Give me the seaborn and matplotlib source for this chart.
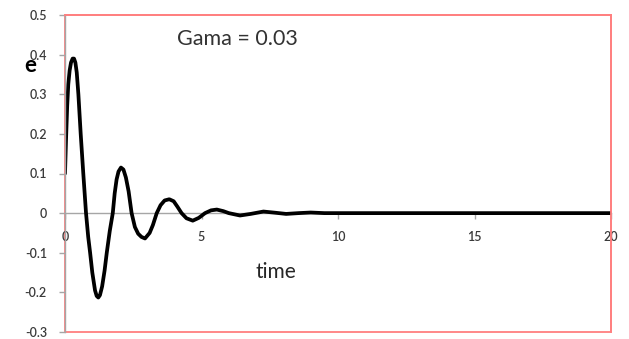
import matplotlib
matplotlib.use("Agg")
import matplotlib.pyplot as plt
from matplotlib.patches import Rectangle
import seaborn as sns
import pandas as pd

# values
time = [0, 0.04, 0.08, 0.12, 0.17, 0.22, 0.28, 0.33, 0.38, 0.43, 0.49, 0.575,
        0.67, 0.77, 0.85, 0.92, 1.0, 1.1, 1.16, 1.22, 1.28, 1.36, 1.45, 1.53,
        1.64, 1.75, 1.82, 1.89, 1.96, 2.05, 2.14, 2.23, 2.33, 2.44, 2.56, 2.68,
        2.8, 2.93, 3.1, 3.22, 3.36, 3.5, 3.65, 3.82, 3.98, 4.12, 4.27, 4.45,
        4.68, 4.9, 5.13, 5.35, 5.56, 5.8, 6.0, 6.41, 6.8, 7.27, 7.7, 8.1, 8.55,
        9.0, 9.5, 10, 11, 12, 13, 14, 15, 16, 17, 18, 19, 20]
e = [0.10, 0.19, 0.27, 0.325, 0.36, 0.38, 0.39, 0.39, 0.38, 0.355, 0.30, 0.20,
     0.10, 0.0, -0.06, -0.10, -0.15, -0.195, -0.209, -0.213, -0.207, -0.185,
     -0.145, -0.10, -0.045, 0.0, 0.05, 0.085, 0.105, 0.115, 0.11, 0.09, 0.055,
     0.0, -0.035, -0.052, -0.06, -0.064, -0.05, -0.03, 0.0, 0.02, 0.032, 0.035,
     0.03, 0.016, 0.0, -0.013, -0.019, -0.012, 0.0, 0.007, 0.009, 0.005, 0.0,
     -0.006, -0.002, 0.004, 0.001, -0.002, 0.0, 0.0015, 0.0, 0, 0, 0, 0, 0, 0,
     0, 0, 0, 0, 0]
xticks = [0, 5, 10, 15, 20]
yticks = [-0.3, -0.2, -0.1, 0, 0.1, 0.2, 0.3, 0.4, 0.5]
ylabels = ["-0.3", "-0.2", "-0.1", "0", "0.1", "0.2", "0.3", "0.4", "0.5"]

df = pd.DataFrame({"time": time, "e": e})

sns.set_style("white")
plt.rcParams['font.family'] = ['Lato', 'DejaVu Sans']

fig = plt.figure(figsize=(6.29, 3.39), dpi=100)
ax = fig.add_axes([65/629, 7/339, 546/629, 317/339])

sns.lineplot(data=df, x="time", y="e", color="black", linewidth=2.7, ax=ax)
for ln in ax.lines:
    ln.set_solid_joinstyle("round")

ax.set_xlim(0, 20)
ax.set_ylim(-0.3, 0.5)
ax.set_xlabel("")
ax.set_ylabel("")

red = "#ff7f7f"
grey = "#a6a6a6"
for s in ["top", "right"]:
    ax.spines[s].set_color(red)
    ax.spines[s].set_linewidth(1.3)
ax.spines["left"].set_color(grey)
ax.spines["left"].set_linewidth(1.0)
ax.spines["bottom"].set_position(("data", 0))
ax.spines["bottom"].set_color(grey)
ax.spines["bottom"].set_linewidth(1.0)
ax.spines["bottom"].set_zorder(1)
ax.add_patch(Rectangle((0, 0), 1, 1, transform=ax.transAxes, fill=False,
                       edgecolor=red, linewidth=1.3, clip_on=False, zorder=0.5))

ax.set_xticks(xticks)
ax.set_xticklabels([str(t) for t in xticks])
ax.set_yticks(yticks)
ax.set_yticklabels(ylabels)
ax.tick_params(axis="x", direction="out", length=4, width=1, color=grey,
               pad=9, labelsize=9, labelcolor="#3a3a3a")
ax.tick_params(axis="y", direction="out", length=4, width=1, color=grey,
               pad=9, labelsize=9, labelcolor="#3a3a3a")
ax.tick_params(left=True, bottom=True)
for lab in ax.get_xticklabels() + ax.get_yticklabels():
    lab.set_fontweight("semibold")

fig.text(30/629, 1 - 65/339, "e", fontsize=16, fontweight="bold",
         color="black", ha="center", va="center")
ax.text(0.386, 0.19, "time", transform=ax.transAxes, fontsize=15,
        color="#262626", ha="center", va="center")
ax.text(0.315, 0.925, "Gama = 0.03", transform=ax.transAxes, fontsize=15.5,
        color="#333333", ha="center", va="center")

fig.savefig("out.png", dpi=100)
